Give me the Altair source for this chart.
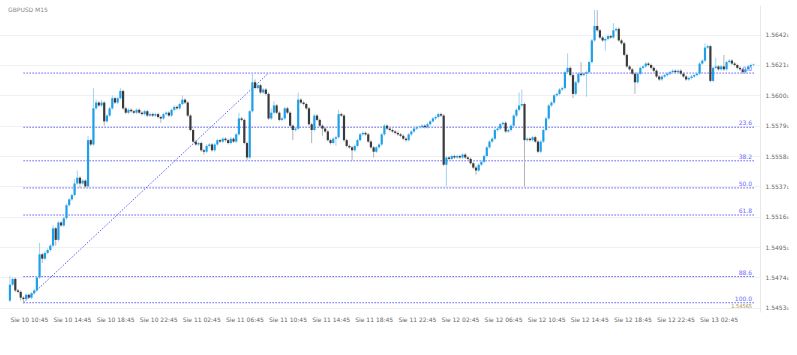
import altair as alt
import pandas as pd

title_text = "GBPUSD M15"
first_open = 15458  # price in 1/10000 units
closes = [
    15469, 15473, 15465, 15464, 15460, 15459, 15462, 15460, 15463, 15465,
    15474, 15490, 15487, 15491, 15493, 15496, 15508, 15500, 15512, 15510,
    15515, 15524, 15528, 15531, 15539, 15543, 15539, 15541, 15537, 15569,
    15566, 15591, 15595, 15593, 15595, 15582, 15586, 15591, 15598, 15595,
    15598, 15603, 15591, 15588, 15590, 15589, 15588, 15590, 15588, 15587,
    15589, 15586, 15587, 15586, 15587, 15585, 15584, 15587, 15588, 15586,
    15590, 15592, 15591, 15594, 15597, 15595, 15586, 15576, 15568, 15566,
    15567, 15562, 15561, 15565, 15566, 15562, 15566, 15569, 15568, 15570,
    15569, 15567, 15570, 15568, 15573, 15584, 15583, 15567, 15557, 15589,
    15609, 15605, 15607, 15602, 15604, 15601, 15584, 15588, 15593, 15588,
    15583, 15584, 15591, 15588, 15579, 15576, 15577, 15597, 15595, 15594,
    15591, 15580, 15576, 15586, 15583, 15579, 15577, 15575, 15569, 15567,
    15570, 15571, 15587, 15586, 15569, 15565, 15564, 15562, 15565, 15569,
    15573, 15574, 15573, 15568, 15564, 15561, 15564, 15566, 15573, 15579,
    15577, 15576, 15575, 15574, 15573, 15572, 15570, 15569, 15573, 15575,
    15577, 15578, 15578, 15579, 15578, 15580, 15582, 15584, 15585, 15587,
    15586, 15552, 15557, 15556, 15558, 15557, 15558, 15557, 15559, 15557,
    15556, 15553, 15550, 15548, 15552, 15554, 15558, 15564, 15568, 15570,
    15576, 15577, 15580, 15581, 15575, 15576, 15579, 15586, 15590, 15593,
    15594, 15569, 15570, 15569, 15571, 15568, 15561, 15568, 15576, 15584,
    15593, 15595, 15600, 15601, 15604, 15605, 15616, 15619, 15614, 15601,
    15609, 15615, 15614, 15615, 15616, 15623, 15638, 15648, 15645, 15640,
    15638, 15639, 15641, 15640, 15645, 15646, 15638, 15636, 15628, 15620,
    15618, 15615, 15609, 15615, 15619, 15620, 15622, 15621, 15619, 15617,
    15613, 15611, 15613, 15614, 15615, 15616, 15617, 15616, 15617, 15615,
    15613, 15611, 15612, 15613, 15614, 15615, 15622, 15624, 15633, 15634,
    15610, 15619, 15620, 15618, 15620, 15618, 15623, 15624, 15622, 15621,
    15619, 15618, 15616, 15618, 15620, 15621, 15621,
]
upper_wick = [
    6, 1, 1, 1, 1, 1, 1, 1, 1, 1,
    1, 8, 1, 1, 1, 1, 2, 1, 1, 1,
    1, 1, 1, 1, 3, 5, 1, 1, 1, 3,
    1, 14, 2, 1, 2, 1, 1, 1, 2, 1,
    1, 2, 1, 1, 1, 1, 1, 1, 1, 1,
    1, 1, 1, 1, 1, 1, 1, 1, 1, 1,
    1, 1, 1, 1, 3, 1, 1, 1, 1, 1,
    1, 1, 1, 1, 1, 1, 1, 1, 1, 1,
    1, 1, 1, 1, 1, 4, 1, 1, 1, 1,
    6, 2, 1, 1, 1, 1, 1, 3, 3, 1,
    1, 1, 1, 1, 1, 1, 1, 5, 1, 1,
    1, 1, 1, 1, 1, 1, 1, 1, 1, 1,
    1, 1, 3, 1, 1, 1, 1, 1, 1, 1,
    1, 1, 1, 1, 1, 1, 1, 1, 1, 1,
    1, 1, 1, 1, 1, 1, 1, 1, 1, 1,
    2, 1, 1, 1, 1, 1, 1, 1, 1, 1,
    1, 1, 1, 1, 1, 1, 1, 1, 1, 1,
    1, 1, 1, 1, 1, 1, 1, 1, 1, 1,
    1, 1, 1, 1, 1, 1, 1, 1, 1, 9,
    10, 1, 1, 1, 1, 1, 1, 1, 1, 1,
    1, 1, 1, 1, 1, 1, 1, 10, 1, 1,
    1, 1, 8, 1, 1, 1, 1, 11, 11, 1,
    1, 1, 1, 1, 5, 1, 1, 1, 1, 1,
    1, 1, 1, 1, 1, 1, 1, 1, 1, 1,
    1, 1, 1, 1, 1, 1, 1, 1, 1, 1,
    1, 1, 1, 1, 1, 1, 1, 1, 3, 1,
    1, 1, 6, 1, 1, 8, 1, 1, 1, 1,
    1, 1, 1, 1, 1, 1, 1,
]
lower_wick = [
    1, 1, 1, 1, 2, 3, 1, 1, 1, 1,
    1, 1, 3, 1, 1, 1, 1, 4, 1, 1,
    1, 1, 1, 1, 1, 1, 3, 1, 1, 1,
    1, 1, 1, 1, 1, 3, 1, 1, 1, 1,
    1, 1, 1, 1, 1, 1, 1, 1, 1, 1,
    1, 1, 1, 1, 1, 1, 3, 1, 1, 1,
    1, 1, 1, 1, 1, 1, 1, 1, 1, 1,
    1, 1, 2, 1, 1, 1, 1, 1, 1, 1,
    1, 1, 1, 1, 1, 1, 1, 1, 2, 1,
    1, 1, 1, 1, 1, 1, 1, 1, 1, 1,
    1, 1, 1, 1, 1, 7, 1, 1, 1, 1,
    1, 1, 9, 1, 1, 1, 5, 1, 1, 1,
    1, 5, 1, 1, 1, 1, 1, 7, 1, 1,
    1, 1, 1, 1, 1, 4, 1, 1, 1, 1,
    1, 1, 1, 1, 1, 1, 1, 1, 1, 1,
    1, 1, 1, 1, 1, 1, 1, 1, 1, 1,
    1, 1, 15, 1, 1, 1, 1, 1, 1, 1,
    1, 1, 1, 3, 1, 1, 1, 1, 1, 1,
    1, 1, 1, 1, 1, 1, 1, 1, 1, 1,
    1, 32, 1, 1, 1, 1, 1, 1, 1, 1,
    1, 1, 1, 1, 1, 1, 1, 1, 1, 3,
    1, 1, 1, 1, 16, 1, 1, 1, 1, 1,
    1, 7, 1, 1, 1, 1, 1, 1, 1, 1,
    1, 1, 8, 1, 1, 1, 1, 1, 1, 1,
    1, 1, 1, 1, 1, 1, 1, 1, 1, 1,
    1, 1, 1, 1, 1, 1, 1, 1, 1, 1,
    1, 1, 1, 1, 1, 1, 1, 1, 1, 1,
    1, 1, 1, 1, 1, 1, 1,
]
time_labels = [
    "Sie 10 10:45", "Sie 10 14:45", "Sie 10 18:45", "Sie 10 22:45",
    "Sie 11 02:45", "Sie 11 06:45", "Sie 11 10:45", "Sie 11 14:45",
    "Sie 11 18:45", "Sie 11 22:45", "Sie 12 02:45", "Sie 12 06:45",
    "Sie 12 10:45", "Sie 12 14:45", "Sie 12 18:45", "Sie 12 22:45",
    "Sie 13 02:45",
]
bars_per_label = 16
price_ticks = [1.5453, 1.5474, 1.5495, 1.5516, 1.5537, 1.5558, 1.5579, 1.5600, 1.5621, 1.5642]
fib_levels = [0.0, 23.6, 38.2, 50.0, 61.8, 88.6, 100.0]
fib_high = 1.56154
fib_low = 1.54565
fib_start_bar = 5
fib_high_bar = 96

x_domain = [-1.83, 276.56]
y_domain = [1.54501, 1.56625]

# ---- build tables ----
opens = [first_open] + closes[:-1]
rows = []
for i, (o, c, uw, lw) in enumerate(zip(opens, closes, upper_wick, lower_wick)):
    top, bot = max(o, c), min(o, c)
    btop = top + 0.35 if top == bot else top
    rows.append(dict(i=i, open=o / 1e4, close=c / 1e4,
                     high=(top + uw) / 1e4, low=(bot - lw) / 1e4,
                     btop=btop / 1e4, bbot=bot / 1e4,
                     dir="up" if c >= o else "down"))
df = pd.DataFrame(rows)

fib_df = pd.DataFrame({
    "level": fib_levels,
    "price": [fib_high - lv / 100 * (fib_high - fib_low) for lv in fib_levels],
    "label": [f"{lv:.1f}" for lv in fib_levels],
    "xs": fib_start_bar,
    "xe": x_domain[1],
})
diag_df = pd.DataFrame({"i": [fib_start_bar, fib_high_bar], "price": [fib_low, fib_high]})
low_lab_df = pd.DataFrame({"xe": [x_domain[1]], "price": [fib_low], "label": [f"{fib_low:.5f}"]})

label_js = "[" + ",".join(f"'{t}'" for t in time_labels) + "]"
tick_vals = [k * bars_per_label for k in range(len(time_labels))]

x_axis = alt.Axis(values=tick_vals, labelExpr=f"{label_js}[round(datum.value/{bars_per_label})]",
                  title=None, grid=False, ticks=False, domain=False, labelAlign="left",
                  labelFontSize=6, labelColor="#666666", labelPadding=4, labelFont="DejaVu Sans")
y_axis = alt.Axis(values=price_ticks, labelExpr="format(datum.value, '.4f') + '\u2081'",
                  orient="right", title=None, grid=True, gridColor="#f0f0f0", ticks=False,
                  domain=True, domainColor="#e8e8e8", labelFontSize=6, labelColor="#666666",
                  labelPadding=5, labelFont="DejaVu Sans")

xs = alt.Scale(domain=x_domain, nice=False, zero=False)
ys = alt.Scale(domain=y_domain, nice=False, zero=False)

base = alt.Chart(df)
is_up = "datum.dir == 'up'"

wicks = base.mark_rule(strokeWidth=1).encode(
    x=alt.X("i:Q", scale=xs, axis=x_axis),
    y=alt.Y("low:Q", scale=ys, axis=y_axis),
    y2="high:Q",
    color=alt.condition(is_up, alt.value("#9fd4f6"), alt.value("#b4b4b4")),
)
bodies = base.mark_bar(size=2.2).encode(
    x=alt.X("i:Q", scale=xs, axis=x_axis),
    y=alt.Y("bbot:Q", scale=ys, axis=y_axis),
    y2="btop:Q",
    color=alt.condition(is_up, alt.value("#1e9fe8"), alt.value("#3a3a3a")),
)

fib_lines = alt.Chart(fib_df).mark_rule(color="#4a4aff", strokeWidth=1, strokeDash=[1.5, 1.5], opacity=0.9).encode(
    x=alt.X("xs:Q", scale=xs, axis=x_axis),
    x2="xe:Q",
    y=alt.Y("price:Q", scale=ys, axis=y_axis),
)
fib_text = alt.Chart(fib_df).mark_text(align="right", baseline="bottom", dx=-3, dy=-1,
                                       fontSize=6, color="#6a6aff", font="DejaVu Sans").encode(
    x=alt.X("xe:Q", scale=xs, axis=x_axis),
    y=alt.Y("price:Q", scale=ys, axis=y_axis),
    text="label:N",
)
low_text = alt.Chart(low_lab_df).mark_text(align="right", baseline="top", dx=-3, dy=1,
                                           fontSize=5, color="#a08a4a", font="DejaVu Sans").encode(
    x=alt.X("xe:Q", scale=xs, axis=x_axis),
    y=alt.Y("price:Q", scale=ys, axis=y_axis),
    text="label:N",
)
diag = alt.Chart(diag_df).mark_line(color="#4a4aff", strokeWidth=1, strokeDash=[1.5, 1.5], opacity=0.9).encode(
    x=alt.X("i:Q", scale=xs, axis=x_axis),
    y=alt.Y("price:Q", scale=ys, axis=y_axis),
)
title = alt.Chart(pd.DataFrame({"t": [title_text]})).mark_text(
    align="left", baseline="middle", fontSize=6, color="#888888", font="DejaVu Sans"
).encode(x=alt.value(8), y=alt.value(5), text="t:N")

chart = alt.layer(fib_lines, diag, wicks, bodies, fib_text, low_text, title).properties(
    width=760, height=307,
    autosize=alt.AutoSizeParams(type="none"),
    padding={"left": 0, "top": 5, "right": 37, "bottom": 43},
    background="white",
).configure_view(stroke=None)

chart.save("out.html", embed_options={"renderer": "svg", "actions": False})
